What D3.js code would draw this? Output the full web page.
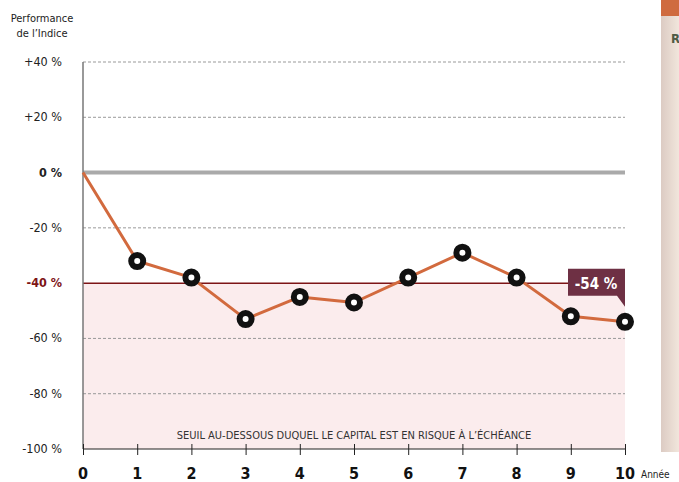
<!DOCTYPE html>
<html>
<head>
<meta charset="utf-8">
<script src="https://cdn.jsdelivr.net/npm/d3@7"></script>
<style>
  body { margin: 0; background: #fff; }
  svg { display: block; font-family: "Liberation Sans Narrow", "DejaVu Sans Condensed", sans-serif; }
</style>
</head>
<body>
<svg width="679" height="482"></svg>
<script>
const years = [0, 1, 2, 3, 4, 5, 6, 7, 8, 9, 10];
const performance = [0, -32, -38, -53, -45, -47, -38, -29, -38, -52, -54];
const yTicks = [40, 20, 0, -20, -40, -60, -80, -100];
const threshold = -40;
const finalLabel = '-54 %';

const svg = d3.select('svg');

const x = d3.scaleLinear().domain([0, 10]).range([83, 625]);
const y = d3.scaleLinear().domain([-100, 40]).range([449, 62]);

// right side panel (cut off)
const grad = svg.append('defs').append('linearGradient')
  .attr('id', 'panel').attr('x1', 0).attr('x2', 1);
grad.append('stop').attr('offset', 0).attr('stop-color', '#dccbc3');
grad.append('stop').attr('offset', 1).attr('stop-color', '#f1e6dc');
svg.append('rect').attr('x', 661).attr('y', 0).attr('width', 18).attr('height', 452)
  .attr('fill', 'url(#panel)');
svg.append('rect').attr('x', 661).attr('y', 0).attr('width', 18).attr('height', 16)
  .attr('fill', '#cf6b3f');
svg.append('text').attr('x', 671).attr('y', 43).text('R')
  .attr('font-size', 13).attr('font-weight', 'bold').attr('fill', '#4f5b45')
  .attr('font-family', 'DejaVu Sans Condensed');

// risk area
svg.append('rect')
  .attr('x', x(0)).attr('y', y(threshold))
  .attr('width', x(10) - x(0)).attr('height', y(-100) - y(threshold))
  .attr('fill', '#fbeced');

svg.append('text')
  .attr('x', (x(0) + x(10)) / 2).attr('y', 439)
  .attr('text-anchor', 'middle').attr('font-size', 11).attr('fill', '#333')
  .text('SEUIL AU-DESSOUS DUQUEL LE CAPITAL EST EN RISQUE À L\u2019ÉCHÉANCE');

// grid lines
svg.append('g').selectAll('line')
  .data(yTicks.filter(d => d !== 0 && d !== threshold && d !== -100))
  .join('line')
    .attr('x1', x(0)).attr('x2', x(10))
    .attr('y1', d => y(d)).attr('y2', d => y(d))
    .attr('stroke', '#999').attr('stroke-dasharray', '3,2').attr('stroke-width', 1);

svg.append('line')
  .attr('x1', x(0)).attr('x2', x(10)).attr('y1', y(0)).attr('y2', y(0))
  .attr('stroke', '#aaaaaa').attr('stroke-width', 4);

svg.append('line')
  .attr('x1', x(0)).attr('x2', x(10)).attr('y1', y(threshold)).attr('y2', y(threshold))
  .attr('stroke', '#7d1416').attr('stroke-width', 1.5);

// y axis
svg.append('line')
  .attr('x1', x(0)).attr('x2', x(0)).attr('y1', y(40)).attr('y2', y(-100))
  .attr('stroke', '#777').attr('stroke-width', 1.5);

svg.append('g').selectAll('text')
  .data(yTicks)
  .join('text')
    .attr('x', 62).attr('y', d => y(d) + 4)
    .attr('text-anchor', 'end').attr('font-size', 12.5)
    .attr('font-weight', d => (d === 0 || d === threshold) ? 'bold' : 'normal')
    .attr('fill', d => d === threshold ? '#7d1416' : '#222')
    .text(d => `${d > 0 ? '+' : ''}${d} %`);

// x axis
const xAxis = svg.append('g').attr('transform', `translate(0,${y(-100)})`)
  .call(d3.axisBottom(x).tickValues(years).tickSize(6).tickFormat(''));
xAxis.select('.domain').attr('stroke', '#222').attr('stroke-width', 1.2).attr('d', `M${x(0)},0H${x(10)}`);
xAxis.selectAll('.tick line').attr('y1', -5).attr('y2', 6).attr('stroke', '#222');

svg.append('g').selectAll('text')
  .data(years)
  .join('text')
    .attr('x', d => x(d)).attr('y', 479)
    .attr('text-anchor', 'middle').attr('font-size', 16).attr('font-weight', 'bold')
    .attr('font-family', 'DejaVu Sans Condensed').attr('fill', '#111')
    .text(d => d);

svg.append('text').attr('x', 641).attr('y', 478).attr('font-size', 10).attr('fill', '#222')
  .text('Année');

// title
const title = svg.append('text').attr('x', 42).attr('font-size', 11).attr('fill', '#222')
  .attr('text-anchor', 'middle');
title.append('tspan').attr('x', 42).attr('y', 22).text('Performance');
title.append('tspan').attr('x', 42).attr('y', 37).text('de l\u2019Indice');

// line
const data = years.map((d, i) => ({ year: d, value: performance[i] }));
svg.append('path')
  .datum(data)
  .attr('fill', 'none').attr('stroke', '#d26a3e').attr('stroke-width', 3)
  .attr('stroke-linejoin', 'round')
  .attr('d', d3.line().x(d => x(d.year)).y(d => y(d.value)));

const pts = svg.append('g').selectAll('g')
  .data(data.slice(1))
  .join('g')
    .attr('transform', d => `translate(${x(d.year)},${y(d.value)})`);
pts.append('circle').attr('r', 6).attr('fill', '#fff').attr('stroke', '#111').attr('stroke-width', 6);

// callout
const last = data[data.length - 1];
const bx = x(last.year), by = y(last.value);
const callout = svg.append('g');
callout.append('path')
  .attr('d', `M${bx - 57},${by - 53}H${bx}V${by - 15}L${bx - 8},${by - 26}H${bx - 57}Z`)
  .attr('fill', '#6e3044');
callout.append('text')
  .attr('x', bx - 29).attr('y', by - 33)
  .attr('text-anchor', 'middle').attr('font-size', 15).attr('font-weight', 'bold').attr('fill', '#fff')
  .attr('font-family', 'DejaVu Sans Condensed')
  .text(finalLabel);
</script>
</body>
</html>
